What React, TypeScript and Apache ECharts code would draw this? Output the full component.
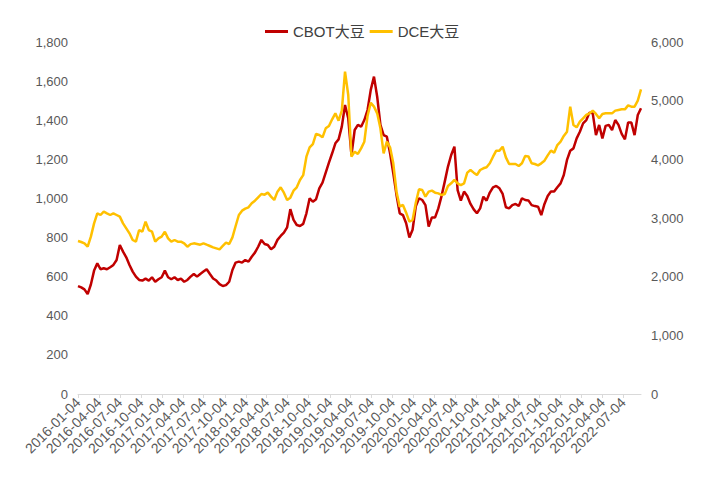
import { useEffect, useRef } from 'react';
import * as echarts from 'echarts';

const START_DATE = '2016-01-04';
const STEP_DAYS = 14;

const tickLabels = [
  '2016-01-04', '2016-04-04', '2016-07-04', '2016-10-04',
  '2017-01-04', '2017-04-04', '2017-07-04', '2017-10-04',
  '2018-01-04', '2018-04-04', '2018-07-04', '2018-10-04',
  '2019-01-04', '2019-04-04', '2019-07-04', '2019-10-04',
  '2020-01-04', '2020-04-04', '2020-07-04', '2020-10-04',
  '2021-01-04', '2021-04-04', '2021-07-04', '2021-10-04',
  '2022-01-04', '2022-04-04', '2022-07-04',
];

const cbotValues = [
  552, 545, 535, 511, 560, 631, 668, 638, 643, 638, 648, 660, 685, 762, 728, 699, 660, 626, 600, 583,
  580, 590, 580, 597, 574, 587, 597, 631, 597, 587, 597, 583, 590, 574, 583, 600,
  614, 600, 614, 626, 638, 614, 591, 580, 562, 552, 557, 574, 634, 672, 677, 672, 685, 677, 702, 723,
  753, 788, 767, 762, 740, 753, 788, 808, 825, 852, 945, 890, 864, 859, 870,
  924, 1001, 983, 996, 1052, 1081, 1132, 1183, 1231, 1282, 1302, 1367, 1478, 1410, 1222, 1350, 1376, 1367, 1401, 1452,
  1555, 1623, 1520, 1376, 1324, 1316, 1231, 1128, 1018, 924, 915, 873, 800, 840, 960,
  1001, 992, 966, 856, 903, 903, 949, 1012, 1086, 1163, 1222, 1265, 1043, 989, 1035, 1012, 972, 944, 924, 949,
  1009, 989, 1030, 1057, 1064, 1052, 1023, 955, 949, 966, 972, 961, 1001, 992, 990,
  966, 961, 958, 915, 972, 1012, 1035, 1035, 1057, 1077, 1120, 1197, 1244, 1256, 1307, 1341, 1384, 1401, 1439, 1435,
  1324, 1376, 1307, 1371, 1376, 1350, 1401, 1376, 1330, 1302, 1388, 1388, 1324, 1427, 1461,
];

const dceValues = [
  2608, 2591, 2568, 2511, 2682, 2909, 3079, 3051, 3108, 3079, 3051, 3079, 3051, 3023, 2909, 2824, 2739, 2625, 2597, 2795,
  2767, 2937, 2795, 2767, 2597, 2653, 2682, 2767, 2653, 2597, 2625, 2597, 2597, 2568, 2511, 2555,
  2568, 2557, 2545, 2568, 2545, 2523, 2500, 2483, 2466, 2523, 2580, 2557, 2670, 2864, 3051, 3125, 3159, 3182, 3250, 3295,
  3352, 3409, 3398, 3432, 3364, 3307, 3449, 3523, 3432, 3307, 3347, 3466, 3523, 3648, 3730,
  4045, 4205, 4261, 4432, 4415, 4375, 4528, 4568, 4682, 4784, 4659, 4829, 5494, 5097, 4045, 4131, 4091, 4187, 4301, 4739,
  4966, 4898, 4784, 4528, 4102, 4301, 4205, 3932, 3449, 3193, 3222, 3091, 2937, 2966, 3260,
  3489, 3477, 3364, 3449, 3466, 3432, 3420, 3392, 3409, 3545, 3591, 3648, 3591, 3562, 3591, 3773, 3818, 3773, 3733, 3818,
  3847, 3864, 3932, 4045, 4148, 4148, 4216, 4034, 3920, 3920, 3920, 3886, 3932, 4057, 4050,
  3932, 3920, 3898, 3932, 3977, 4068, 4148, 4114, 4244, 4301, 4398, 4472, 4898, 4585, 4545, 4642, 4699, 4756, 4784, 4830,
  4773, 4699, 4773, 4784, 4784, 4784, 4830, 4841, 4852, 4852, 4920, 4898, 4898, 5000, 5193,
];

function parseDate(s: string): number {
  const [y, m, d] = s.split('-').map(Number);
  return new Date(y, m - 1, d).getTime();
}
function pad(n: number) {
  return n < 10 ? '0' + n : '' + n;
}
function fmtDate(ts: number): string {
  const d = new Date(Math.round(ts));
  return d.getFullYear() + '-' + pad(d.getMonth() + 1) + '-' + pad(d.getDate());
}

const startTs = parseDate(START_DATE);
const dates = cbotValues.map((_, i) => {
  const d = new Date(startTs);
  d.setDate(d.getDate() + i * STEP_DAYS);
  return d.getTime();
});
const tickTs = tickLabels.map(parseDate);

const FONT = "'Liberation Sans', 'Noto Sans CJK SC', sans-serif";

export default function App() {
  const ref = useRef<HTMLDivElement>(null);
  useEffect(() => {
    document.body.style.margin = '0';
    if (!ref.current) return;
    const chart = echarts.init(ref.current, undefined, { renderer: 'svg' });
    chart.setOption({
      animation: false,
      backgroundColor: '#ffffff',
      textStyle: { fontFamily: FONT },
      legend: {
        top: 19,
        left: 260,
        icon: 'rect',
        itemWidth: 23,
        itemHeight: 3,
        itemGap: 5,
        textStyle: { fontSize: 15, color: '#404040', fontFamily: FONT },
        data: ['CBOT大豆', 'DCE大豆'],
      },
      grid: { left: 78, right: 85, top: 42, bottom: 87, containLabel: false },
      xAxis: {
        type: 'value',
        min: startTs,
        max: dates[dates.length - 1],
        axisLine: { show: true, lineStyle: { color: '#D9D9D9', width: 1 } },
        axisTick: {
          show: true,
          customValues: tickTs,
          length: 4,
          lineStyle: { color: '#D9D9D9' },
        },
        axisLabel: {
          customValues: tickTs,
          rotate: 45,
          formatter: (v: number) => fmtDate(v),
          fontSize: 14,
          color: '#595959',
          fontFamily: FONT,
          margin: 6,
          hideOverlap: false,
        },
        splitLine: { show: false },
      },
      yAxis: [
        {
          type: 'value',
          min: 0,
          max: 1800,
          interval: 200,
          axisLine: { show: false },
          axisTick: { show: false },
          splitLine: { show: false },
          axisLabel: {
            formatter: (v: number) => v.toLocaleString('en-US'),
            fontSize: 13,
            color: '#595959',
            fontFamily: FONT,
            margin: 10,
          },
        },
        {
          type: 'value',
          min: 0,
          max: 6000,
          interval: 1000,
          position: 'right',
          axisLine: { show: false },
          axisTick: { show: false },
          splitLine: { show: false },
          axisLabel: {
            formatter: (v: number) => v.toLocaleString('en-US'),
            fontSize: 13,
            color: '#595959',
            fontFamily: FONT,
            margin: 10,
          },
        },
      ],
      series: [
        {
          name: 'CBOT大豆',
          type: 'line',
          yAxisIndex: 0,
          showSymbol: false,
          symbol: 'none',
          color: '#C00000',
          lineStyle: { width: 2.5, color: '#C00000' },
          data: dates.map((d, i) => [d, cbotValues[i]]),
        },
        {
          name: 'DCE大豆',
          type: 'line',
          yAxisIndex: 1,
          showSymbol: false,
          symbol: 'none',
          color: '#FFC000',
          lineStyle: { width: 2.5, color: '#FFC000' },
          data: dates.map((d, i) => [d, dceValues[i]]),
        },
      ],
    });
    return () => chart.dispose();
  }, []);
  return <div ref={ref} style={{ width: 726, height: 481 }} />;
}
